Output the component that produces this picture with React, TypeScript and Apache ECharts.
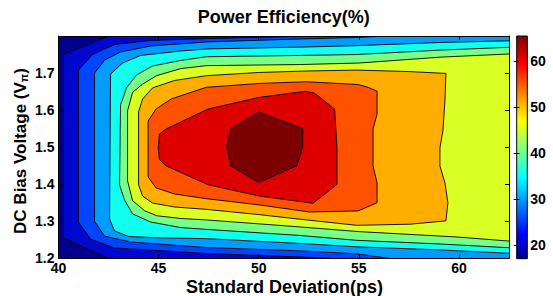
import React, { useEffect, useRef } from "react";
import * as echarts from "echarts";

const FONT = "Liberation Sans, Arial, Helvetica, sans-serif";

const xRange = [40, 62.5];
const yRange = [1.2, 1.8];
const xTicks = [40, 45, 50, 55, 60];
const yTicks = [1.2, 1.3, 1.4, 1.5, 1.6, 1.7];
const levels = [20, 25, 30, 35, 40, 45, 50, 55, 60, 65];
const cbarRange = [17, 65.4];
const cbarTicks = [20, 30, 40, 50, 60];

// contour lines (standard deviation ps, bias voltage Vpi), one per level
const c20 = [[42.5, 1.8], [40.25, 1.75], [40.25, 1.255], [42.5, 1.2]];
const c25 = [[53.1, 1.8], [47.4, 1.793], [44.6, 1.788], [42.8, 1.777], [41.7, 1.75], [41.0, 1.708], [41.0, 1.297], [41.6, 1.252], [42.8, 1.228], [47.4, 1.213], [52.1, 1.2035], [53.6, 1.2]];
const c30 = [[56.5, 1.8], [54.9, 1.796], [52.1, 1.792], [47.4, 1.784], [44.6, 1.773], [43.1, 1.757], [42.3, 1.735], [41.8, 1.7], [41.8, 1.3], [42.3, 1.26], [43.6, 1.244], [47.4, 1.229], [52.1, 1.22], [54.9, 1.212], [56.5, 1.2]];
const c35 = [[62.5, 1.787], [59.1, 1.7825], [54.9, 1.774], [52.1, 1.77], [47.4, 1.765], [46.1, 1.7595], [44.1, 1.7475], [43.2, 1.727], [42.6, 1.697], [42.55, 1.306], [42.8, 1.274], [43.5, 1.259], [45.1, 1.255], [47.4, 1.253], [52.1, 1.24], [54.9, 1.231], [59.1, 1.2225], [62.5, 1.2135]];
const c40 = [[62.5, 1.7695], [59.1, 1.762], [54.9, 1.75], [52.1, 1.7475], [47.4, 1.744], [46.1, 1.734], [44.7, 1.719], [43.9, 1.695], [43.4, 1.66], [43.1, 1.614], [43.05, 1.398], [43.3, 1.357], [43.7, 1.32], [44.6, 1.298], [46.1, 1.283], [47.4, 1.278], [52.1, 1.2615], [54.9, 1.2485], [59.1, 1.2385], [62.5, 1.2285]];
const c45 = [[62.5, 1.7515], [59.1, 1.743], [55.0, 1.727], [52.1, 1.723], [47.4, 1.72], [46.1, 1.712], [44.9, 1.693], [44.2, 1.67], [43.7, 1.648], [43.45, 1.598], [43.45, 1.409], [43.7, 1.3555], [44.3, 1.3285], [44.9, 1.315], [46.1, 1.3075], [47.4, 1.3035], [52.1, 1.2845], [55.0, 1.272], [59.9, 1.2575], [62.5, 1.2465]];
const c50 = [[44.0, 1.595], [44.2, 1.63], [44.7, 1.66], [45.8, 1.68], [47.4, 1.693], [50.0, 1.7015], [52.4, 1.7055], [54.9, 1.708], [57.5, 1.704], [59.35, 1.699], [59.3, 1.625], [59.2, 1.5445], [59.05, 1.4975], [59.05, 1.449], [59.3, 1.404], [59.45, 1.35], [59.35, 1.301], [57.55, 1.292], [54.9, 1.289], [52.4, 1.3035], [50.0, 1.318], [47.4, 1.332], [45.8, 1.3385], [44.7, 1.349], [44.2, 1.368], [44.0, 1.398]];
const c55 = [[44.475, 1.5705], [44.875, 1.603], [45.625, 1.63], [47.375, 1.6615], [50.04, 1.672], [52.375, 1.6765], [54.975, 1.669], [55.46, 1.6615], [55.91, 1.651], [55.91, 1.5895], [55.71, 1.549], [55.71, 1.449], [55.91, 1.404], [55.91, 1.35], [54.975, 1.328], [52.54, 1.325], [50.04, 1.344], [47.375, 1.361], [45.8, 1.3735], [44.875, 1.39], [44.475, 1.4195]];
const c60 = [[44.98, 1.4975], [45.04, 1.5355], [45.375, 1.549], [47.475, 1.603], [50.04, 1.6345], [52.375, 1.651], [52.79, 1.6455], [53.79, 1.603], [53.91, 1.4975], [53.91, 1.3995], [52.71, 1.3485], [50.04, 1.368], [47.475, 1.3985], [45.375, 1.4495], [45.04, 1.467]];
const c65 = [[48.4, 1.5], [48.6, 1.55], [50.0, 1.595], [52.2, 1.55], [52.2, 1.5], [51.9, 1.45], [50.0, 1.404], [48.6, 1.45]];

const contours = [c20, c25, c30, c35, c40, c45, c50, c55, c60, c65];

const bandColors = ["#00008C", "#0008D0", "#0045FF", "#009CFF", "#10FFEF", "#78FF88", "#DAFF24", "#FFAE00", "#FF5200", "#DE0000", "#7C0000"];

const jetStops = [
  { offset: 0, color: "#00008F" },
  { offset: 0.111, color: "#0000FF" },
  { offset: 0.365, color: "#00FFFF" },
  { offset: 0.619, color: "#FFFF00" },
  { offset: 0.873, color: "#FF0000" },
  { offset: 1, color: "#800000" },
];

function onEdge(p: number[]) {
  return p[0] === xRange[0] || p[0] === xRange[1] || p[1] === yRange[0] || p[1] === yRange[1];
}

export default function App() {
  const ref = useRef<HTMLDivElement>(null);
  useEffect(() => {
    if (!ref.current) return;
    const chart = echarts.init(ref.current, undefined, { renderer: "svg" });
    const labelStyle = { fontSize: 14, fontWeight: "bold" as const, color: "#000", fontFamily: FONT, lineHeight: 14 };
    const lineStyle = { color: "#000", width: 1 };
    const option: any = {
      animation: false,
      backgroundColor: "#fff",
      grid: [
        { left: 58.5, top: 36, width: 450.5, height: 222.3 },
        { left: 516.7, top: 36, width: 10.6, height: 222.7 },
      ],
      xAxis: [
        {
          gridIndex: 0, type: "value", min: xRange[0], max: xRange[1], interval: 5, position: "bottom", z: 10,
          axisLine: { show: true, onZero: false, lineStyle },
          axisTick: { show: true, inside: true, length: 4, lineStyle },
          axisLabel: { ...labelStyle, margin: 3, showMaxLabel: false },
          splitLine: { show: false },
        },
        {
          gridIndex: 0, type: "value", min: xRange[0], max: xRange[1], interval: 5, position: "top", z: 10,
          axisLine: { show: true, onZero: false, lineStyle },
          axisTick: { show: true, inside: true, length: 4, lineStyle },
          axisLabel: { show: false },
          splitLine: { show: false },
        },
        { gridIndex: 1, type: "value", min: 0, max: 1, show: false },
      ],
      yAxis: [
        {
          gridIndex: 0, type: "value", min: yRange[0], max: yRange[1], interval: 0.1, position: "left", z: 10,
          axisLine: { show: true, onZero: false, lineStyle },
          axisTick: { show: true, inside: true, length: 4, lineStyle },
          axisLabel: { ...labelStyle, margin: 4, showMaxLabel: false, formatter: (v: number) => v.toFixed(1) },
          splitLine: { show: false },
        },
        {
          gridIndex: 0, type: "value", min: yRange[0], max: yRange[1], interval: 0.1, position: "right", z: 10,
          axisLine: { show: true, onZero: false, lineStyle },
          axisTick: { show: true, inside: true, length: 4, lineStyle },
          axisLabel: { show: false },
          splitLine: { show: false },
        },
        {
          gridIndex: 1, type: "value", min: cbarRange[0], max: cbarRange[1], position: "right", z: 10,
          axisLine: { show: false },
          axisTick: { show: true, inside: true, length: 3, lineStyle, customValues: cbarTicks },
          axisLabel: { ...labelStyle, margin: 3, customValues: cbarTicks },
          splitLine: { show: false },
        },
        {
          gridIndex: 1, type: "value", min: cbarRange[0], max: cbarRange[1], position: "left", z: 10,
          axisLine: { show: false },
          axisTick: { show: true, inside: true, length: 3, lineStyle, customValues: cbarTicks },
          axisLabel: { show: false },
          splitLine: { show: false },
        },
      ],
      series: [
        {
          type: "custom",
          xAxisIndex: 0,
          yAxisIndex: 0,
          clip: true,
          data: [0, ...levels].map((_, i) => [i, 0]),
          renderItem: (params: any, api: any) => {
            const i = api.value(0);
            const cs = params.coordSys;
            if (i === 0) {
              return { type: "rect", shape: { x: cs.x, y: cs.y, width: cs.width, height: cs.height }, style: { fill: bandColors[0] } };
            }
            const pts = contours[i - 1];
            const line = pts.map((p) => api.coord(p));
            const first = pts[0];
            const last = pts[pts.length - 1];
            const open = onEdge(first) && onEdge(last);
            const poly = line.slice();
            if (open && first[1] === yRange[1] && last[1] === yRange[0]) {
              poly.push(api.coord([xRange[1], yRange[0]]), api.coord([xRange[1], yRange[1]]));
            }
            return {
              type: "group",
              children: [
                { type: "polygon", shape: { points: poly }, style: { fill: bandColors[i], stroke: "none" } },
                {
                  type: "polyline",
                  shape: { points: open ? line : [...line, line[0]] },
                  style: { stroke: "#000", lineWidth: 0.9, fill: "none" },
                },
              ],
            };
          },
        },
        {
          type: "custom",
          xAxisIndex: 2,
          yAxisIndex: 2,
          data: [[0, cbarRange[1], 1, cbarRange[0]]],
          renderItem: (params: any, api: any) => {
            const p1 = api.coord([api.value(0), api.value(1)]);
            const p2 = api.coord([api.value(2), api.value(3)]);
            return {
              type: "rect",
              shape: { x: p1[0], y: p1[1], width: p2[0] - p1[0], height: p2[1] - p1[1] },
              style: {
                fill: new echarts.graphic.LinearGradient(0, 1, 0, 0, jetStops),
                stroke: "#000",
                lineWidth: 1,
              },
            };
          },
        },
      ],
      graphic: [
        {
          type: "text", x: 283.7, y: 16.5, z: 20,
          style: {
            text: "Power Efficiency(%)", fontSize: 18, fontWeight: "bold", fontFamily: FONT, fill: "#000", lineHeight: 18,
            textAlign: "center", align: "center", textVerticalAlign: "middle", verticalAlign: "middle",
          },
        },
        {
          type: "text", x: 284.5, y: 286.5, z: 20,
          style: {
            text: "Standard Deviation(ps)", fontSize: 18, fontWeight: "bold", fontFamily: FONT, fill: "#000", lineHeight: 18,
            textAlign: "center", align: "center", textVerticalAlign: "middle", verticalAlign: "middle",
          },
        },
        {
          type: "text", x: 19.5, y: 151, z: 20, rotation: Math.PI / 2,
          style: {
            text: "{a|DC Bias Voltage (V}{s|π}{a|)}", fill: "#000",
            textAlign: "center", align: "center", textVerticalAlign: "middle", verticalAlign: "middle",
            rich: {
              a: { fontSize: 17, fontWeight: "bold", fontFamily: FONT, fill: "#000", color: "#000", lineHeight: 19, verticalAlign: "bottom" },
              s: { fontSize: 11, fontWeight: "bold", fontFamily: FONT, fill: "#000", color: "#000", lineHeight: 19, verticalAlign: "bottom" },
            },
          },
        },
      ],
    };
    chart.setOption(option);
    return () => chart.dispose();
  }, []);
  return <div ref={ref} style={{ position: "fixed", left: 0, top: 0, width: 553, height: 296 }} />;
}
